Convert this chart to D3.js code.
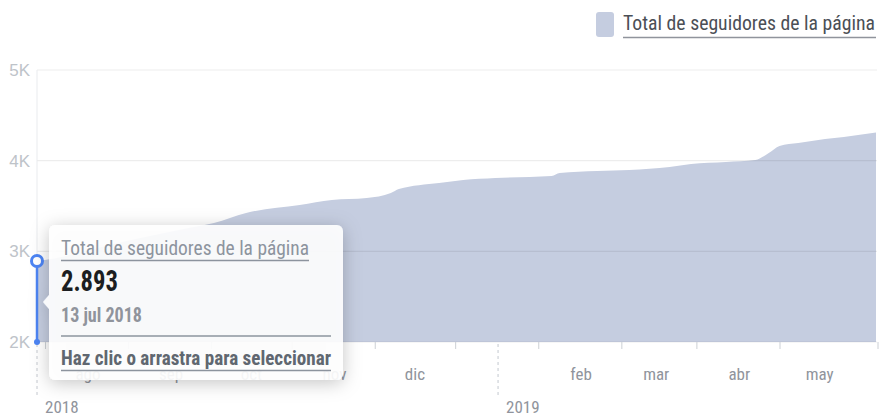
<!DOCTYPE html>
<html>
<head>
<meta charset="utf-8">
<script src="https://cdn.jsdelivr.net/npm/d3@7"></script>
<style>
  body { margin: 0; background: #fff; }
  svg { display: block; font-family: "Liberation Sans Narrow", "Arial Narrow", "Roboto Condensed", Roboto, sans-serif; }
</style>
</head>
<body>
<script>
// samples of page followers
const dates = [
  '2018-07-13', '2018-07-20', '2018-08-01', '2018-08-15', '2018-08-29', '2018-09-10',
  '2018-09-17', '2018-09-29', '2018-10-19', '2018-10-31', '2018-11-13', '2018-11-22',
  '2018-11-25', '2018-12-10', '2018-12-13', '2018-12-19', '2018-12-31', '2019-01-21',
  '2019-01-24', '2019-02-07', '2019-02-19', '2019-03-06', '2019-03-14', '2019-03-27',
  '2019-04-07', '2019-04-12', '2019-04-16', '2019-04-23', '2019-05-03', '2019-05-10',
  '2019-05-22'
]
const followers = [
  2893, 2925, 3010, 3110, 3200, 3270,
  3312, 3423, 3511, 3566, 3588, 3643,
  3687, 3754, 3765, 3787, 3809, 3831,
  3864, 3886, 3897, 3930, 3963, 3985,
  4007, 4084, 4162, 4195, 4239, 4261,
  4310
]
const yTicks = [2000, 3000, 4000, 5000]
const monthNames = ['ene', 'feb', 'mar', 'abr', 'may', 'jun', 'jul', 'ago', 'sep', 'oct', 'nov', 'dic']
const seriesName = 'Total de seguidores de la página'
const hintText = 'Haz clic o arrastra para seleccionar'
const selectedIndex = 0

const parse = d3.timeParse('%Y-%m-%d')
const data = dates.map((d, i) => ({date: parse(d), value: followers[i]}))

const W = 879, H = 418
const svg = d3.select('body').append('svg').attr('width', W).attr('height', H)

const x = d3.scaleTime().domain([data[0].date, data[data.length - 1].date]).range([37, 876])
const y = d3.scaleLinear().domain([2000, 5000]).range([342, 70])

const defs = svg.append('defs')
const shadow = defs.append('filter').attr('id', 'shadow')
  .attr('x', '-20%').attr('y', '-30%').attr('width', '140%').attr('height', '160%')
shadow.append('feDropShadow').attr('dx', 0).attr('dy', 3).attr('stdDeviation', 9)
  .attr('flood-color', '#000').attr('flood-opacity', 0.25)

// area
svg.append('path')
  .datum(data)
  .attr('fill', '#c5cde0')
  .attr('d', d3.area().x(d => x(d.date)).y0(y(2000)).y1(d => y(d.value)).curve(d3.curveMonotoneX))

// grid + left axis line
svg.append('g').selectAll('line').data(yTicks).join('line')
  .attr('x1', 37).attr('x2', 877)
  .attr('y1', d => y(d)).attr('y2', d => y(d))
  .attr('stroke', 'rgba(0,0,0,0.07)').attr('stroke-width', 1.2)
svg.append('line').attr('x1', 37).attr('x2', 37).attr('y1', y(5000)).attr('y2', y(2000))
  .attr('stroke', '#e9ebee')

const yaxis = d3.axisLeft(y).tickValues(yTicks).tickSize(0).tickPadding(7)
  .tickFormat(d => d / 1000 + 'K')
const g_yaxis = svg.append('g').attr('transform', 'translate(37,0)').call(yaxis)
g_yaxis.select('.domain').remove()
g_yaxis.selectAll('text').attr('fill', '#bec3c9').attr('font-size', 17).style('font-family', 'inherit')

// x ticks in the middle of each month, labels at month starts
const start = x.domain()[0], end = x.domain()[1]
const mids = d3.timeMonth.range(d3.timeMonth.floor(start), end).map(m => d3.timeDay.offset(m, 15))
  .filter(d => d > start && d < d3.timeDay.offset(end, -8))
const xaxis = d3.axisBottom(x).tickValues(mids.concat([end])).tickSize(7).tickFormat('')
const g_xaxis = svg.append('g').attr('transform', `translate(0,${y(2000)})`).call(xaxis)
g_xaxis.select('.domain').remove()
g_xaxis.selectAll('line').attr('stroke', '#ccd0d5')
g_xaxis.selectAll('.tick').filter(d => +d === +end).attr('transform', `translate(${x(end) + 2},0)`)

const monthStarts = d3.timeMonth.range(d3.timeMonth.ceil(start), end)
svg.append('g').selectAll('text').data(monthStarts.filter(d => d.getMonth() !== 0)).join('text')
  .attr('x', d => x(d)).attr('y', 380)
  .attr('text-anchor', 'middle').attr('font-size', 17).attr('fill', '#90949c')
  .text(d => monthNames[d.getMonth()])

const yearMarks = [start].concat(d3.timeYear.range(d3.timeYear.ceil(start), end))
const years = svg.append('g').selectAll('g').data(yearMarks).join('g')
years.append('line')
  .attr('x1', d => x(d)).attr('x2', d => x(d)).attr('y1', 344).attr('y2', 398)
  .attr('stroke', '#c4c8cf').attr('stroke-dasharray', '3,3')
years.append('text')
  .attr('x', d => x(d) + 8).attr('y', 413)
  .attr('font-size', 17).attr('fill', '#90949c')
  .text(d => d.getFullYear())

// legend
svg.append('rect').attr('x', 596).attr('y', 12).attr('width', 18).attr('height', 25).attr('rx', 3)
  .attr('fill', '#c5cde0')
svg.append('text').attr('x', 623).attr('y', 30).attr('font-size', 21).attr('fill', '#4b4f56')
  .attr('textLength', 252).attr('lengthAdjust', 'spacingAndGlyphs')
  .text(seriesName)
svg.append('line').attr('x1', 623).attr('x2', 876).attr('y1', 37.5).attr('y2', 37.5)
  .attr('stroke', '#90949c').attr('stroke-width', 1.5)

// hover marker
const sel = data[selectedIndex]
const mx = x(sel.date), my = y(sel.value)
svg.append('line').attr('x1', mx).attr('x2', mx).attr('y1', my).attr('y2', y(2000))
  .attr('stroke', '#4c84f3').attr('stroke-width', 2.5)
svg.append('circle').attr('cx', mx).attr('cy', y(2000)).attr('r', 3).attr('fill', '#4c84f3')
svg.append('circle').attr('cx', mx).attr('cy', my).attr('r', 5.5)
  .attr('fill', '#fff').attr('stroke', '#4c84f3').attr('stroke-width', 3)

// tooltip
const tx = 49, ty = 225, tw = 294, th = 155, r = 6, py = 302
const tip = svg.append('g')
const p = d3.path()
p.moveTo(tx + r, ty)
p.lineTo(tx + tw - r, ty); p.arcTo(tx + tw, ty, tx + tw, ty + r, r)
p.lineTo(tx + tw, ty + th - r); p.arcTo(tx + tw, ty + th, tx + tw - r, ty + th, r)
p.lineTo(tx + r, ty + th); p.arcTo(tx, ty + th, tx, ty + th - r, r)
p.lineTo(tx, py + 7); p.lineTo(tx - 6, py); p.lineTo(tx, py - 7)
p.lineTo(tx, ty + r); p.arcTo(tx, ty, tx + r, ty, r)
p.closePath()
tip.append('path').attr('d', p.toString()).attr('fill', 'rgba(255,255,255,0.9)')
  .attr('filter', 'url(#shadow)')

const fmt = d3.formatLocale({decimal: ',', thousands: '.', grouping: [3], currency: ['', '€']}).format(',')
tip.append('text').attr('x', 61).attr('y', 255).attr('font-size', 20).attr('fill', '#8d949e')
  .attr('textLength', 248).attr('lengthAdjust', 'spacingAndGlyphs').text(seriesName)
tip.append('line').attr('x1', 61).attr('x2', 309).attr('y1', 260.5).attr('y2', 260.5)
  .attr('stroke', '#8d949e').attr('stroke-width', 1.5)
tip.append('text').attr('x', 61).attr('y', 291).attr('font-size', 30).attr('font-weight', 'bold')
  .attr('fill', '#1c1e21').attr('textLength', 57).attr('lengthAdjust', 'spacingAndGlyphs')
  .text(fmt(sel.value))
tip.append('text').attr('x', 61).attr('y', 322).attr('font-size', 20).attr('font-weight', 'bold')
  .attr('fill', '#90949c').attr('textLength', 81).attr('lengthAdjust', 'spacingAndGlyphs')
  .text(`${sel.date.getDate()} ${monthNames[sel.date.getMonth()]} ${sel.date.getFullYear()}`)
tip.append('line').attr('x1', 61).attr('x2', 331).attr('y1', 336).attr('y2', 336)
  .attr('stroke', '#8d949e').attr('stroke-width', 1.5)
tip.append('text').attr('x', 61).attr('y', 365).attr('font-size', 20).attr('font-weight', 'bold')
  .attr('fill', '#606770')
  .attr('textLength', 270).attr('lengthAdjust', 'spacingAndGlyphs').text(hintText)
tip.append('line').attr('x1', 61).attr('x2', 331).attr('y1', 370.5).attr('y2', 370.5)
  .attr('stroke', '#8d949e').attr('stroke-width', 1.5)
</script>
</body>
</html>
